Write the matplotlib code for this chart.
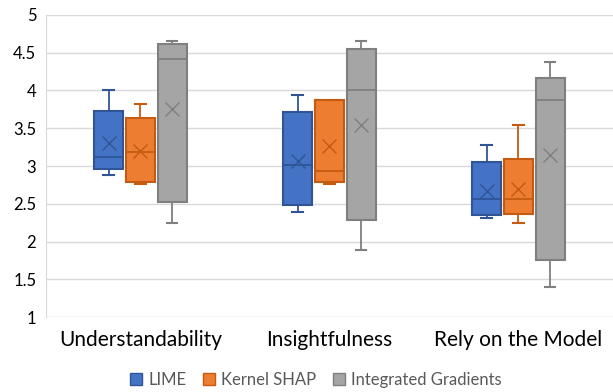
import matplotlib
matplotlib.use("Agg")
import matplotlib.pyplot as plt
from matplotlib.patches import Patch

categories = ["Understandability", "Insightfulness", "Rely on the Model"]
series = ["LIME", "Kernel SHAP", "Integrated Gradients"]

# per series, one value per category
whislo = {
    "LIME":                 [2.88, 2.39, 2.31],
    "Kernel SHAP":          [2.76, 2.76, 2.25],
    "Integrated Gradients": [2.25, 1.89, 1.40],
}
q1 = {
    "LIME":                 [2.96, 2.48, 2.35],
    "Kernel SHAP":          [2.79, 2.79, 2.37],
    "Integrated Gradients": [2.52, 2.28, 1.76],
}
med = {
    "LIME":                 [3.12, 3.01, 2.56],
    "Kernel SHAP":          [3.18, 2.94, 2.56],
    "Integrated Gradients": [4.41, 4.00, 3.88],
}
q3 = {
    "LIME":                 [3.73, 3.71, 3.05],
    "Kernel SHAP":          [3.63, 3.88, 3.09],
    "Integrated Gradients": [4.62, 4.55, 4.16],
}
whishi = {
    "LIME":                 [4.00, 3.94, 3.28],
    "Kernel SHAP":          [3.82, 3.88, 3.54],
    "Integrated Gradients": [4.66, 4.66, 4.37],
}
means = {
    "LIME":                 [3.31, 3.07, 2.67],
    "Kernel SHAP":          [3.20, 3.26, 2.69],
    "Integrated Gradients": [3.75, 3.54, 3.14],
}

fills = {"LIME": "#4472C4", "Kernel SHAP": "#ED7D31", "Integrated Gradients": "#A5A5A5"}
edges = {"LIME": "#2F5597", "Kernel SHAP": "#C55A11", "Integrated Gradients": "#7F7F7F"}

plt.rcParams["font.family"] = ["Lato", "DejaVu Sans"]

fig = plt.figure(figsize=(6.13, 3.92), dpi=100)
ax = fig.add_axes([0.075, 0.191, 0.925, 0.771])

step, width = 0.169, 0.153
for k, s in enumerate(series):
    stats = []
    for i in range(len(categories)):
        stats.append({"whislo": whislo[s][i], "q1": q1[s][i], "med": med[s][i],
                      "q3": q3[s][i], "whishi": whishi[s][i], "mean": means[s][i],
                      "fliers": []})
    pos = [i + (k - 1) * step for i in range(len(categories))]
    ec = edges[s]
    ax.bxp(stats, positions=pos, widths=width, patch_artist=True, showmeans=True,
           manage_ticks=False, zorder=3,
           boxprops=dict(facecolor=fills[s], edgecolor=ec, linewidth=1.5),
           medianprops=dict(color=ec, linewidth=1.3),
           whiskerprops=dict(color=ec, linewidth=1.3),
           capprops=dict(color=ec, linewidth=1.5),
           capwidths=width * 0.35,
           meanprops=dict(marker="x", markeredgecolor=ec, markersize=10,
                          markeredgewidth=1.0))

ax.set_xlim(-0.5, 2.5)
ax.set_ylim(1, 5)
ax.set_yticks([1, 1.5, 2, 2.5, 3, 3.5, 4, 4.5, 5])
ax.set_yticklabels(["1", "1.5", "2", "2.5", "3", "3.5", "4", "4.5", "5"])
ax.set_xticks(range(len(categories)))
ax.set_xticklabels(categories, fontsize=15)
ax.tick_params(axis="y", length=0, labelsize=12, pad=7)
ax.tick_params(axis="x", length=0, pad=9)
ax.grid(axis="y", color="#D9D9D9", linewidth=1.0, zorder=0)
ax.set_axisbelow(True)
for sp in ["top", "right", "bottom"]:
    ax.spines[sp].set_visible(False)
ax.spines["left"].set_color("#D9D9D9")

handles = [Patch(facecolor=fills[s], edgecolor=edges[s], label=s) for s in series]
fig.legend(handles=handles, loc="center", bbox_to_anchor=(316 / 613, 1 - 380 / 392),
           ncol=3, frameon=False, fontsize=12, handlelength=0.7, handleheight=0.7,
           handletextpad=0.4, columnspacing=1.0, labelcolor="#595959")

fig.savefig("out.png", dpi=100)
